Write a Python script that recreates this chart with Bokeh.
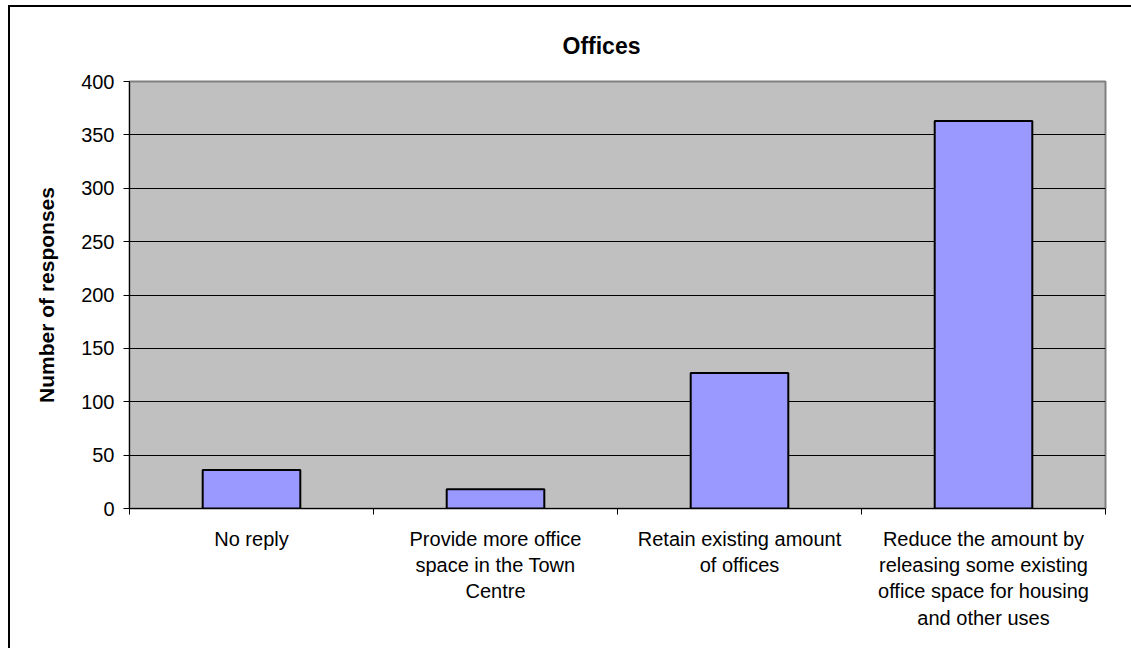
from bokeh.plotting import figure
from bokeh.models import FixedTicker, Range1d, ColumnDataSource
from bokeh.embed import file_html
from bokeh.resources import INLINE

categories = [
    "No reply",
    "Provide more office\nspace in the Town\nCentre",
    "Retain existing amount\nof offices",
    "Reduce the amount by\nreleasing some existing\noffice space for housing\nand other uses",
]
responses = [36, 18, 127, 363]
y_ticks = [0, 50, 100, 150, 200, 250, 300, 350, 400]

x_pos = [i + 0.5 for i in range(len(categories))]
src = ColumnDataSource(data=dict(x=x_pos, top=responses))

FONT = "Liberation Sans"

p = figure(width=1123, height=643, output_backend="svg", toolbar_location=None,
           x_range=Range1d(0, len(categories)), y_range=Range1d(0, 400),
           min_border_left=119, min_border_right=28, min_border_top=74, min_border_bottom=142,
           title="Offices",
           styles={"border-left": "2px solid black", "border-top": "2px solid black",
                   "margin-left": "8px", "margin-top": "5px", "overflow": "hidden"})

p.background_fill_color = "#C0C0C0"
p.border_fill_color = "white"
p.outline_line_color = "#808080"
p.outline_line_width = 2

p.vbar(x="x", top="top", width=0.4, source=src, fill_color="#9999FF",
       line_color="black", line_width=2)

# title
p.title.text_font = FONT
p.title.text_font_size = "23px"
p.title.text_font_style = "bold"
p.title.text_color = "black"
p.title.align = "left"
p.title.offset = 433
p.title.standoff = 45

# y axis
yax = p.yaxis[0]
yax.ticker = FixedTicker(ticks=y_ticks)
yax.axis_label = "Number of responses"
yax.axis_label_text_font = FONT
yax.axis_label_text_font_size = "21px"
yax.axis_label_text_font_style = "bold"
yax.axis_label_text_color = "black"
yax.axis_label_standoff = 20
yax.major_label_text_font = FONT
yax.major_label_text_font_size = "20px"
yax.major_label_text_color = "black"
yax.major_tick_out = 6
yax.major_tick_in = 0
yax.minor_tick_line_color = None
yax.major_label_standoff = 9
yax.axis_line_color = "black"
yax.major_tick_line_color = "black"

# x axis
xax = p.xaxis[0]
xax.ticker = FixedTicker(ticks=x_pos, minor_ticks=list(range(len(categories) + 1)))
xax.major_label_overrides = {x: c for x, c in zip(x_pos, categories)}
xax.major_label_text_font = FONT
xax.major_label_text_font_size = "20px"
xax.major_label_text_color = "black"
xax.major_tick_line_color = None
xax.major_tick_out = 0
xax.major_tick_in = 0
xax.minor_tick_out = 6
xax.minor_tick_in = 0
xax.minor_tick_line_color = "black"
xax.major_label_standoff = 13
xax.axis_line_color = "black"

# grid
p.xgrid.grid_line_color = None
p.ygrid.grid_line_color = "black"
p.ygrid.ticker = FixedTicker(ticks=y_ticks)

open("out.html", "w").write(file_html(p, INLINE))
